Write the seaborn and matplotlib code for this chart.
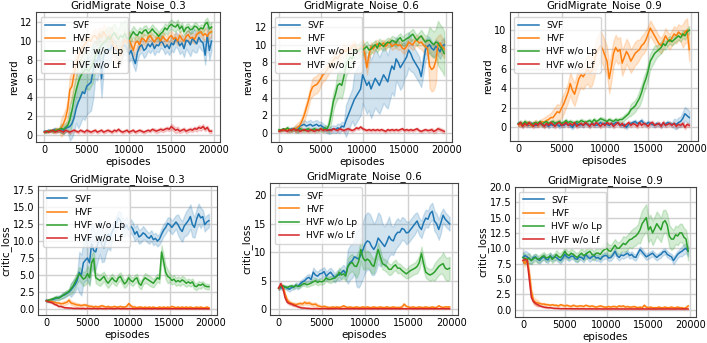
import numpy as np
import pandas as pd
import seaborn as sns
import matplotlib.pyplot as plt

# x grid: one logged value every 250 episodes
episodes = list(range(0, 20000, 250))
methods = ["SVF", "HVF", "HVF w/o Lp", "HVF w/o Lf"]
colors = ["#1f77b4", "#ff7f0e", "#2ca02c", "#d62728"]
titles = ["GridMigrate_Noise_0.3", "GridMigrate_Noise_0.6", "GridMigrate_Noise_0.9"]

# ---------------- reward, noise 0.3
svf_r03 = [0.4,0.4,0.5,0.4,0.5,0.6,0.5,0.5, 0.6,0.5,0.7,0.8,0.9,1.2,1.8,2.8,
           3.5,4.0,4.6,4.4,5.2,5.4,5.6,6.8, 8.0,7.8,9.0,6.0,8.4,8.8,9.2,9.0,
           9.6,9.2,9.0,8.7,8.5,9.4,9.6,9.2, 8.6,9.0,8.2,7.6,8.8,9.4,9.6,9.0,
           9.2,9.7,9.4,9.8,9.2,9.6,9.5,10.0, 9.8,9.3,9.6,9.2,9.8,9.6,10.2,10.0,
           9.5,9.8,9.2,10.1,10.0,9.6,10.3,10.0, 9.7,10.4,10.0,9.8,8.5,10.6,9.0,10.0]
svf_r03_sd = [0.1,0.2,0.4,1.5,2.8,3.0,2.0,1.5,0.8,1.0,0.8,0.8,0.7,0.7,0.7,0.8,0.9,1.2,0.9,1.0]
hvf_r03 = [0.3,0.4,0.4,0.5,0.4,0.5,0.6,0.5, 0.8,1.2,1.8,2.8,4.8,5.2,6.5,7.5,
           8.3,8.8,9.4,9.6,10.0,10.2,10.0,10.5, 10.6,10.2,10.8,10.4,11.0,10.6,10.2,10.6,
           10.0,9.2,9.5,8.8,8.5,9.6,10.2,9.8, 10.2,9.6,9.0,9.8,10.0,9.6,10.3,10.2,
           9.9,10.4,10.6,10.2,9.9,10.3,10.4,10.0, 10.5,10.2,10.0,10.4,10.6,10.2,10.4,10.0,
           10.6,10.2,10.0,10.5,10.7,10.3,10.4,10.2, 10.7,10.9,11.0,10.6,10.8,10.5,10.9,11.0]
hvf_r03_sd = [0.1,0.2,1.0,1.5,0.8,0.6,0.7,0.8,1.5,1.0,0.8,0.6,0.5,0.5,0.5,0.5,0.5,0.5,0.5,0.6]
nolp_r03 = [0.3,0.3,0.4,0.5,0.4,0.5,0.5,0.6, 0.7,0.6,0.8,1.0,1.6,2.6,3.8,4.8,
            5.6,6.2,6.6,6.9,7.0,6.8,7.2,7.6, 8.4,8.8,9.2,9.6,9.8,10.0,10.4,10.2,
            10.6,10.9,10.5,10.2,10.6,10.4,10.8,10.3, 10.2,10.6,11.0,10.7,10.6,11.0,10.8,11.1,
            11.2,10.8,11.0,11.3,11.0,10.8,10.5,10.8, 11.0,11.4,11.2,11.6,11.8,11.6,11.5,11.8,
            11.3,11.6,11.0,11.4,11.5,11.2,11.3,11.6, 11.5,11.2,11.4,11.3,11.8,12.0,11.3,11.5]
nolp_r03_sd = [0.1,0.2,0.5,1.5,2.0,2.0,1.5,1.2,1.0,1.5,0.6,0.5,0.5,0.5,0.5,0.5,0.4,0.4,0.4,0.5]
nolf_r03 = [0.3,0.4,0.3,0.4,0.5,0.3,0.4,0.5, 0.4,0.3,0.5,0.4,0.3,0.4,0.5,0.4,
            0.3,0.5,0.4,0.3,0.5,0.4,0.3,0.4, 0.5,0.3,0.4,0.5,0.3,0.4,0.5,0.4,
            0.3,0.5,0.4,0.6,0.4,0.3,0.4,0.5, 0.3,0.4,0.5,0.3,0.4,0.5,0.4,0.3,
            0.4,0.5,0.4,0.6,0.5,0.4,0.5,0.6, 0.5,0.6,0.7,0.6,0.9,0.7,0.5,0.6,
            0.4,0.5,0.6,0.4,0.5,0.6,0.5,0.7, 0.6,0.8,0.7,0.9,0.6,0.8,0.4,0.4]
nolf_r03_sd = [0.1,0.15,0.15,0.15,0.15,0.15,0.15,0.15,0.15,0.15,0.15,0.15,0.15,0.2,0.2,0.3,0.2,0.2,0.25,0.2]

# ---------------- reward, noise 0.6
svf_r06 = [0.3,0.4,0.3,0.5,0.4,0.3,0.5,0.4, 0.5,0.4,0.8,0.9,1.0,0.8,0.9,1.0,
           0.8,0.9,1.0,0.8,0.9,0.7,0.5,0.4, 0.3,0.4,0.5,0.4,0.6,0.5,0.8,0.7,
           1.4,2.0,2.6,3.2,3.8,4.2,4.6,5.0, 6.6,6.0,5.4,5.8,5.0,5.6,6.2,5.8,
           5.4,6.0,6.6,6.2,5.8,6.8,7.6,7.2, 8.4,8.0,7.4,7.8,8.2,8.6,9.4,9.0,
           8.4,8.0,7.6,7.2,6.4,7.8,9.4,9.8, 10.0,9.6,9.4,9.8,9.6,9.2,9.8,10.0]
svf_r06_sd = [0.1,0.2,0.4,0.5,0.5,0.4,0.4,0.5,1.8,3.0,3.2,3.3,3.2,3.0,2.5,2.0,1.5,1.2,0.8,0.8]
hvf_r06 = [0.3,0.4,0.3,0.5,0.4,0.3,0.4,0.5, 0.5,0.7,0.9,1.4,2.0,2.8,3.6,4.6,
           5.2,5.4,5.5,5.8,6.2,6.6,6.8,7.2, 7.6,7.8,8.2,8.6,8.4,8.8,9.0,9.4,
           9.2,9.6,9.4,9.8,10.0,9.6,9.4,9.8, 9.8,9.0,7.4,8.8,9.8,9.5,9.9,10.1,
           9.8,10.0,10.2,9.8,10.1,10.3,9.8,10.0, 10.1,9.9,10.0,9.6,9.5,9.8,10.3,10.1,
           10.0,10.4,10.5,10.2,10.3,10.0,9.8,9.6, 7.6,7.2,7.4,8.2,10.0,10.2,9.8,9.5]
hvf_r06_sd = [0.1,0.2,0.5,0.7,1.0,0.8,0.8,0.8,0.5,0.5,0.8,0.5,0.4,0.4,0.5,0.5,0.6,0.8,2.5,1.0]
nolp_r06 = [0.4,0.3,0.5,0.4,0.6,0.4,0.3,0.5, 0.4,0.3,0.5,0.4,0.3,0.4,0.5,0.3,
            0.4,0.5,0.3,0.4,0.5,0.4,0.6,0.5, 1.0,2.2,3.6,4.4,5.4,5.6,5.4,6.4,
            7.6,8.2,8.6,8.4,9.4,9.2,9.3,9.6, 9.4,9.6,9.8,9.4,9.5,9.8,10.0,9.6,
            10.2,10.0,9.8,10.1,10.3,10.2,10.5,10.4, 10.2,10.6,10.8,10.4,10.5,10.7,10.8,11.0,
            11.2,10.8,10.5,10.8,11.0,10.6,10.3,10.5, 10.5,10.2,10.0,10.3,10.2,9.8,9.5,9.0]
nolp_r06_sd = [0.1,0.2,0.2,0.2,0.2,0.3,1.0,1.5,1.2,0.8,0.6,0.5,0.5,0.5,0.5,0.6,0.6,0.7,1.5,2.5]
nolf_r06 = [0.2,0.3,0.4,0.3,0.2,0.4,0.3,0.5, 0.3,0.4,0.2,0.3,0.4,0.3,0.2,0.4,
            0.3,0.2,0.4,0.3,0.5,0.3,0.4,0.3, 0.4,0.3,0.5,0.4,0.3,0.5,0.4,0.3,
            0.4,0.5,0.4,0.3,0.4,0.6,0.5,0.7, 0.5,0.4,0.3,0.4,0.3,0.4,0.3,0.4,
            0.3,0.4,0.3,0.2,0.4,0.3,0.4,0.3, 0.4,0.3,0.4,0.5,0.3,0.4,0.3,0.4,
            0.3,0.4,0.5,0.3,0.2,0.3,0.4,0.3, 0.3,0.4,0.2,0.3,0.5,0.4,0.3,0.2]
nolf_r06_sd = [0.15,0.15,0.15,0.15,0.15,0.15,0.15,0.15,0.15,0.15,0.15,0.15,0.15,0.15,0.15,0.15,0.15,0.15,0.2,0.2]

# ---------------- reward, noise 0.9
svf_r09 = [0.4,0.3,0.2,0.4,0.3,0.2,0.4,0.3, 0.2,0.3,0.4,0.3,0.2,0.3,0.1,0.3,
           0.2,0.4,0.3,0.1,0.3,0.2,0.4,0.3, 0.2,0.0,0.3,0.4,0.2,0.3,0.2,0.4,
           0.3,0.2,0.4,0.3,0.2,0.3,0.5,0.3, 0.4,0.3,0.2,0.4,0.3,0.5,0.4,0.3,
           0.2,0.3,0.0,0.3,0.4,0.5,0.6,0.4, 0.5,0.7,0.4,0.3,0.5,0.4,0.3,0.2,
           0.4,0.3,0.2,0.4,0.3,0.5,0.4,0.3, 0.4,0.3,0.5,0.6,0.9,1.4,1.2,1.0]
svf_r09_sd = [0.2,0.2,0.2,0.2,0.2,0.2,0.2,0.2,0.2,0.2,0.2,0.2,0.2,0.2,0.2,0.2,0.2,0.2,0.5,0.7]
hvf_r09 = [0.3,0.2,0.4,0.3,0.5,0.3,0.2,0.4, 0.5,0.3,0.4,0.6,0.5,0.7,0.8,1.0,
           1.0,1.3,1.6,1.5,2.0,2.4,3.0,3.6, 4.5,3.8,3.4,4.2,5.0,5.4,5.2,5.6,
           6.0,5.6,5.8,6.6,7.6,8.0,8.4,8.0, 7.4,6.8,5.0,6.2,7.6,8.2,7.8,8.0,
           6.6,7.2,7.8,7.4,6.8,7.2,7.6,7.8, 8.0,8.4,8.6,9.0,9.6,10.2,9.8,9.4,
           9.0,8.6,8.4,8.8,9.4,9.0,8.8,9.2, 9.6,9.4,9.8,9.6,9.4,9.8,10.0,8.0]
hvf_r09_sd = [0.2,0.2,0.3,0.5,0.8,1.0,1.2,1.3,1.5,1.5,1.5,1.3,1.3,1.2,1.0,0.8,0.8,0.8,0.8,1.2]
nolp_r09 = [0.4,0.5,0.3,0.6,0.4,0.5,0.3,0.4, 0.5,0.4,0.6,0.3,0.5,0.6,0.4,0.5,
            0.6,0.4,0.5,0.6,0.4,0.5,0.7,0.5, 0.6,0.5,0.4,0.6,0.5,0.7,0.6,0.5,
            0.6,0.7,0.5,0.8,0.6,0.7,0.9,0.8, 0.7,0.6,0.8,0.7,0.6,0.8,0.7,0.8,
            0.8,1.0,1.2,1.4,1.8,2.0,2.2,2.6, 3.0,3.6,4.4,5.0,5.8,6.8,7.2,7.6,
            7.8,8.0,8.2,8.6,8.4,8.8,9.0,8.8, 9.0,9.2,9.4,9.2,9.6,9.4,9.8,10.0]
nolp_r09_sd = [0.2,0.2,0.2,0.2,0.2,0.2,0.2,0.2,0.2,0.2,0.2,0.2,0.3,0.6,0.8,0.8,0.6,0.4,0.4,0.4]
nolf_r09 = [0.3,0.5,0.1,0.4,0.2,0.5,0.3,0.1, 0.4,0.2,0.5,0.3,0.1,0.4,0.2,0.5,
            0.3,0.1,0.4,0.5,0.2,0.3,0.5,0.2, 0.4,0.2,0.5,0.1,0.3,0.4,0.2,0.5,
            0.3,0.1,0.4,0.2,0.5,0.3,0.1,0.4, 0.2,0.5,0.3,0.4,0.1,0.3,0.5,0.2,
            0.4,0.1,0.3,0.5,0.2,0.4,0.3,0.1, 0.5,0.2,0.4,0.3,0.1,0.4,0.5,0.2,
            0.3,0.4,0.1,0.5,0.2,0.3,0.4,0.2, 0.4,0.1,0.3,0.2,0.4,0.0,0.3,0.2]
nolf_r09_sd = [0.2,0.2,0.2,0.2,0.2,0.2,0.2,0.2,0.2,0.2,0.2,0.2,0.2,0.2,0.2,0.2,0.2,0.2,0.2,0.2]

# ---------------- critic loss, noise 0.3
svf_c03 = [1.3,1.2,1.3,1.4,1.5,1.6,1.7,1.8, 2.0,2.1,2.3,2.5,2.8,3.2,3.6,4.2,
           5.4,5.0,6.8,7.2,7.5,6.8,9.6,8.6, 8.4,9.6,10.6,9.4,9.0,10.2,11.0,10.6,
           11.4,12.0,12.6,13.4,13.0,12.2,11.8,12.4, 11.6,12.2,11.8,11.0,11.4,10.6,10.8,11.2,
           11.0,10.6,10.4,10.8,10.2,10.4,10.0,10.3, 11.0,11.6,12.0,12.6,12.4,12.0,12.4,12.8,
           12.4,11.8,11.4,12.2,12.6,13.0,13.6,12.4, 12.0,13.2,14.0,13.4,13.6,12.4,12.8,13.0]
svf_c03_sd = [0.2,0.3,0.4,1.0,3.0,3.2,2.5,2.0,1.0,1.2,1.0,1.0,0.8,0.8,0.9,1.0,1.5,1.8,1.5,1.0]
hvf_c03 = [1.2,1.3,1.2,1.1,1.0,0.9,0.9,0.8, 0.8,0.9,1.0,1.3,0.9,0.8,0.7,0.6,
           0.6,0.5,0.6,0.6,0.5,0.4,0.4,0.3, 0.4,0.3,0.4,0.5,0.4,0.3,0.4,0.3,
           0.3,0.4,0.3,0.3,0.4,0.3,0.3,0.4, 0.8,0.5,0.3,0.3,0.2,0.3,0.3,0.2,
           0.3,0.2,0.3,0.2,0.3,0.2,0.2,0.3, 0.2,0.3,0.2,0.3,0.2,0.4,0.3,0.2,
           0.3,0.2,0.3,0.2,0.3,0.2,0.3,0.2, 0.2,0.3,0.2,0.3,0.2,0.2,0.3,0.2]
hvf_c03_sd = [0.1,0.15,0.3,0.3,0.2,0.2,0.15,0.1,0.1,0.1,0.2,0.1,0.1,0.1,0.1,0.1,0.1,0.1,0.1,0.1]
nolp_c03 = [1.2,1.3,1.4,1.5,1.6,1.7,1.6,1.8, 2.0,2.2,2.4,2.6,3.0,3.4,4.0,4.6,
            5.2,4.8,4.4,4.6,5.2,4.6,6.8,7.4, 4.6,4.4,4.2,4.5,4.8,4.2,3.8,4.2,
            4.6,4.2,4.0,4.6,4.8,4.2,3.7,4.0, 4.6,4.2,4.0,4.4,4.6,3.8,3.5,4.2,
            4.6,4.4,4.2,4.0,3.8,4.2,4.6,4.4, 8.4,7.0,5.4,4.8,4.6,4.2,4.4,4.0,
            4.2,4.0,4.3,4.1,3.8,4.0,3.8,4.0, 3.4,3.3,3.6,3.5,3.7,3.4,3.3,3.3]
nolp_c03_sd = [0.2,0.3,0.4,0.8,1.0,1.2,0.8,0.7,0.6,0.6,0.6,0.6,0.7,0.6,1.0,0.6,0.6,0.5,0.5,0.4]
nolf_c03 = [1.2,1.1,1.0,0.9,0.7,0.6,0.4,0.4, 0.3,0.2,0.2,0.15,0.15,0.1,0.1,0.1,
            0.1,0.08,0.1,0.06,0.1,0.08,0.07,0.1, 0.08,0.06,0.1,0.07,0.08,0.06,0.1,0.08,
            0.07,0.06,0.08,0.1,0.06,0.07,0.08,0.06, 0.07,0.08,0.06,0.05,0.07,0.06,0.08,0.06,
            0.05,0.07,0.06,0.05,0.06,0.07,0.05,0.06, 0.05,0.06,0.07,0.05,0.06,0.05,0.07,0.05,
            0.06,0.05,0.06,0.07,0.05,0.06,0.05,0.06, 0.05,0.06,0.05,0.06,0.05,0.06,0.05,0.05]
nolf_c03_sd = [0.1,0.1,0.08,0.05,0.05,0.05,0.05,0.05,0.05,0.05,0.05,0.05,0.05,0.05,0.05,0.05,0.05,0.05,0.05,0.05]

# ---------------- critic loss, noise 0.6
svf_c06 = [3.7,3.8,3.6,3.9,3.7,3.5,3.8,3.9, 4.2,4.0,4.5,4.8,5.0,5.4,5.6,5.2,
           6.5,6.0,5.8,6.2,6.3,6.6,5.8,6.2, 6.5,6.0,5.5,6.0,6.0,6.4,6.8,6.2,
           7.5,8.2,8.5,9.2,9.0,8.8,9.5,10.5, 11.5,12.0,11.8,11.0,10.5,11.2,12.5,12.0,
           11.5,11.0,11.8,12.8,12.2,12.0,13.0,13.5, 13.5,14.2,14.0,13.4,13.5,14.0,14.5,15.0,
           15.5,14.5,14.0,15.2,16.0,15.8,16.8,17.2, 15.5,15.0,14.0,15.2,16.5,15.8,15.4,15.0]
svf_c06_sd = [0.3,0.4,0.5,0.6,0.8,0.8,0.8,1.0,3.0,5.0,5.0,4.5,3.5,2.5,2.0,1.8,1.5,1.5,1.8,1.2]
hvf_c06 = [3.7,4.2,4.0,2.6,1.6,1.2,1.0,0.9, 0.8,0.9,1.0,0.9,1.2,1.0,1.1,0.9,
           0.8,0.9,0.6,0.5,0.4,0.5,0.4,0.3, 0.3,0.4,0.3,0.4,0.3,0.4,0.6,0.4,
           0.3,0.4,0.3,0.3,0.4,0.3,0.3,0.4, 0.3,0.4,0.3,0.3,0.4,0.3,0.3,0.4,
           0.3,0.3,0.4,0.3,0.3,0.4,0.3,0.3, 0.3,0.4,0.9,0.5,0.4,0.3,0.4,0.3,
           0.3,0.4,0.3,0.3,0.4,0.3,0.3,0.4, 0.3,0.3,0.6,0.4,0.3,0.4,0.4,0.4]
hvf_c06_sd = [0.2,0.3,0.3,0.3,0.3,0.2,0.15,0.15,0.1,0.1,0.1,0.1,0.1,0.1,0.15,0.1,0.1,0.1,0.1,0.1]
nolp_c06 = [3.7,4.0,4.1,3.9,3.8,4.0,4.1,3.9, 4.2,4.0,4.1,4.4,4.5,4.3,4.4,4.6,
            4.8,5.0,4.7,4.9,4.8,5.0,5.5,5.2, 5.2,5.4,5.5,5.8,6.5,6.0,6.2,5.8,
            7.5,8.0,8.2,7.6,7.5,8.4,10.5,9.0, 8.5,8.8,8.5,7.8,7.5,9.0,10.5,9.2,
            8.0,7.8,7.5,7.0,7.0,7.5,7.8,7.2, 7.2,6.8,6.5,6.2,6.5,6.8,7.0,7.2,
            7.5,8.2,9.8,8.0,6.5,6.2,6.0,6.2, 6.5,7.0,7.5,7.8,8.0,7.2,7.0,7.2]
nolp_c06_sd = [0.3,0.3,0.3,0.4,0.5,0.5,0.6,0.8,1.5,2.0,1.5,1.2,1.0,0.9,0.8,1.0,1.2,1.0,1.5,2.0]
nolf_c06 = [3.7,4.5,3.6,2.0,1.2,1.0,0.9,0.7, 0.6,0.4,0.3,0.2,0.2,0.15,0.15,0.1,
            0.1,0.12,0.1,0.08,0.1,0.12,0.1,0.08, 0.1,0.09,0.1,0.12,0.1,0.08,0.1,0.09,
            0.1,0.08,0.1,0.09,0.1,0.08,0.1,0.09, 0.08,0.1,0.09,0.08,0.1,0.09,0.08,0.1,
            0.09,0.08,0.1,0.09,0.08,0.1,0.08,0.09, 0.08,0.1,0.09,0.08,0.09,0.1,0.08,0.09,
            0.08,0.09,0.1,0.08,0.09,0.08,0.1,0.09, 0.08,0.09,0.08,0.1,0.09,0.08,0.09,0.08]
nolf_c06_sd = [0.3,0.2,0.1,0.05,0.05,0.05,0.05,0.05,0.05,0.05,0.05,0.05,0.05,0.05,0.05,0.05,0.05,0.05,0.05,0.05]

# ---------------- critic loss, noise 0.9
svf_c09 = [8.5,8.8,8.6,8.3,8.0,8.5,8.6,8.2, 8.0,8.4,8.6,8.2,8.1,8.8,8.4,8.6,
           8.5,8.2,8.0,8.4,9.0,8.6,8.4,8.7, 8.7,8.3,8.2,8.6,8.5,8.2,9.0,8.6,
           8.3,8.6,8.8,8.4,8.5,8.2,8.6,8.8, 8.8,8.4,8.5,8.9,9.5,8.8,8.5,8.9,
           8.8,9.0,9.2,8.8,9.0,8.6,8.5,9.2, 9.8,9.4,9.0,8.6,8.8,9.0,9.2,8.8,
           8.5,8.8,9.0,9.4,9.5,9.0,8.8,8.6, 8.0,8.5,9.0,9.3,9.5,9.8,10.0,9.5]
svf_c09_sd = [0.8,0.5,0.5,0.5,0.5,0.5,0.5,0.5,0.5,0.5,0.5,0.5,0.5,0.5,0.5,0.5,0.5,0.5,0.6,0.8]
hvf_c09 = [8.0,7.5,8.2,6.0,3.0,1.5,1.2,1.1, 1.0,0.9,0.9,0.8,0.8,0.7,0.8,0.7,
           0.7,0.6,0.8,0.7,0.6,0.7,0.6,0.5, 0.7,0.6,0.5,0.6,0.6,0.5,0.7,0.6,
           0.5,0.6,0.5,0.4,0.5,0.6,0.5,0.4, 0.4,0.5,0.4,0.5,0.5,0.4,0.6,0.5,
           0.6,0.4,0.5,0.4,0.4,0.5,0.4,0.3, 0.4,0.3,0.7,0.4,0.3,0.4,0.3,0.3,
           0.3,0.4,0.3,0.3,0.4,0.3,0.3,0.4, 0.3,0.3,0.4,0.3,0.3,0.2,0.3,0.6]
hvf_c09_sd = [0.5,0.5,0.2,0.15,0.15,0.15,0.15,0.15,0.15,0.15,0.15,0.15,0.15,0.15,0.15,0.15,0.15,0.15,0.15,0.15]
nolp_c09 = [8.5,8.3,8.2,8.4,8.0,8.3,8.5,8.2, 8.3,8.6,8.8,8.4,8.5,8.7,8.2,8.5,
            9.0,8.6,8.5,8.9,9.5,9.0,8.8,9.2, 9.0,8.7,8.5,8.9,9.2,8.8,9.0,9.3,
            9.5,9.0,8.8,9.2,9.2,9.0,9.5,9.8, 10.0,9.6,9.5,10.0,10.5,10.0,10.0,10.4,
            10.8,10.6,11.0,11.4,11.5,11.8,12.0,12.4, 13.0,14.0,14.5,15.0,13.0,13.5,12.5,13.2,
            14.0,13.5,13.0,14.2,14.5,13.8,12.0,11.5, 11.5,12.2,12.0,12.5,12.5,11.8,11.5,9.5]
nolp_c09_sd = [0.8,0.6,0.6,0.6,0.7,0.7,0.7,0.8,0.8,0.9,1.0,1.0,1.2,1.5,2.2,2.0,2.0,1.8,1.5,1.5]
nolf_c09 = [8.0,8.2,8.0,5.0,2.0,1.3,1.0,0.8, 0.6,0.5,0.4,0.35,0.3,0.3,0.25,0.2,
            0.2,0.18,0.15,0.16,0.15,0.14,0.15,0.13, 0.14,0.12,0.13,0.12,0.13,0.12,0.11,0.12,
            0.12,0.11,0.12,0.1,0.11,0.12,0.1,0.11, 0.1,0.11,0.1,0.12,0.1,0.11,0.1,0.1,
            0.11,0.1,0.1,0.11,0.1,0.1,0.11,0.1, 0.1,0.11,0.1,0.1,0.11,0.1,0.1,0.1,
            0.1,0.11,0.1,0.1,0.1,0.11,0.1,0.1, 0.1,0.1,0.11,0.1,0.1,0.1,0.11,0.1]
nolf_c09_sd = [0.4,0.3,0.1,0.05,0.05,0.05,0.05,0.05,0.05,0.05,0.05,0.05,0.05,0.05,0.05,0.05,0.05,0.05,0.05,0.05]

panels = [
    ("reward", [(svf_r03, svf_r03_sd), (hvf_r03, hvf_r03_sd), (nolp_r03, nolp_r03_sd), (nolf_r03, nolf_r03_sd)], (-0.75, 13.1), [0, 2, 4, 6, 8, 10, 12]),
    ("reward", [(svf_r06, svf_r06_sd), (hvf_r06, hvf_r06_sd), (nolp_r06, nolp_r06_sd), (nolf_r06, nolf_r06_sd)], (-1.0, 13.7), [0, 2, 4, 6, 8, 10, 12]),
    ("reward", [(svf_r09, svf_r09_sd), (hvf_r09, hvf_r09_sd), (nolp_r09, nolp_r09_sd), (nolf_r09, nolf_r09_sd)], (-1.4, 11.85), [0, 2, 4, 6, 8, 10]),
    ("critic_loss", [(svf_c03, svf_c03_sd), (hvf_c03, hvf_c03_sd), (nolp_c03, nolp_c03_sd), (nolf_c03, nolf_c03_sd)], (-0.85, 18.1), [0, 2.5, 5, 7.5, 10, 12.5, 15, 17.5]),
    ("critic_loss", [(svf_c06, svf_c06_sd), (hvf_c06, hvf_c06_sd), (nolp_c06, nolp_c06_sd), (nolf_c06, nolf_c06_sd)], (-1.0, 22.2), [0, 5, 10, 15, 20]),
    ("critic_loss", [(svf_c09, svf_c09_sd), (hvf_c09, hvf_c09_sd), (nolp_c09, nolp_c09_sd), (nolf_c09, nolf_c09_sd)], (-1.2, 20.0), [0, 2.5, 5, 7.5, 10, 12.5, 15, 17.5, 20]),
]

# axes boxes in figure fractions (left, bottom, width, height)
boxes = [
    [0.051, 0.586, 0.260, 0.379],
    [0.383, 0.586, 0.257, 0.379],
    [0.721, 0.589, 0.266, 0.376],
    [0.054, 0.082, 0.253, 0.376],
    [0.382, 0.082, 0.266, 0.385],
    [0.728, 0.076, 0.257, 0.379],
]


def long_table(series):
    # each method -> lower / mean / upper rows, seaborn draws the mean and the min-max band
    rows = []
    for name, (vals, sd) in zip(methods, series):
        spread = np.repeat(sd, 4)
        for ep, v, s in zip(episodes, vals, spread):
            rows.append((name, ep, v - s))
            rows.append((name, ep, v))
            rows.append((name, ep, v + s))
    return pd.DataFrame(rows, columns=["method", "episodes", "value"])


fig = plt.figure(figsize=(7.07, 3.43), dpi=100)

for i, (ylab, series, ylim, yticks) in enumerate(panels):
    ax = fig.add_axes(boxes[i])
    df = long_table(series)
    sns.lineplot(data=df, x="episodes", y="value", hue="method", hue_order=methods,
                 palette=colors, errorbar=("pi", 100), linewidth=1.1, ax=ax)
    ax.set_xlim(-990, 20740)
    ax.set_ylim(*ylim)
    ax.set_xticks([0, 5000, 10000, 15000, 20000])
    ax.set_yticks(yticks)
    ax.grid(True, color="#d0d0d0", linewidth=1.0)
    ax.set_axisbelow(True)
    for sp in ax.spines.values():
        sp.set_color("#444444")
        sp.set_linewidth(0.8)
    ax.tick_params(labelsize=7.0, length=0, pad=2.5)
    ax.set_title(titles[i % 3], fontsize=7.4, pad=3)
    ax.set_xlabel("episodes", fontsize=7.4, labelpad=1)
    ax.set_ylabel(ylab, fontsize=7.4, labelpad=1)
    h, l = ax.get_legend_handles_labels()
    ax.legend(h, l, loc="upper left", fontsize=6.6, framealpha=0.8,
              handlelength=2.2, borderpad=0.45, labelspacing=0.45)

fig.savefig("out.png", dpi=100)
